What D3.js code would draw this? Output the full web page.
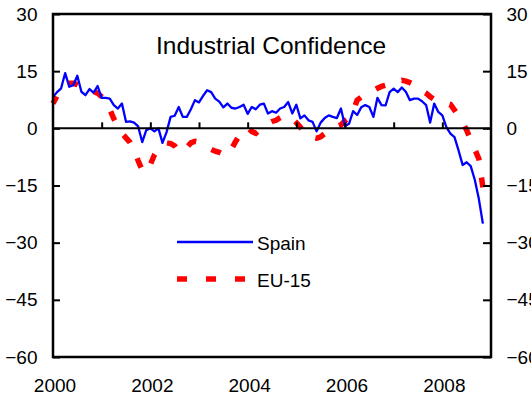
<!DOCTYPE html>
<html>
<head>
<meta charset="utf-8">
<script src="https://cdn.jsdelivr.net/npm/d3@7"></script>
<style>
  html, body { margin: 0; padding: 0; background: #fff; }
  svg { display: block; font-family: "Liberation Sans", Arial, sans-serif; }
</style>
</head>
<body>
<svg id="chart" width="531" height="400"></svg>
<script>
// Monthly values starting January 2000
const startYear = 2000;
const spain = [
  8.2, 9.5, 10.5, 14.5, 10.9, 11.3, 13.8, 9.6, 8.7, 10.3, 9.4, 11.1,
  8.0, 8.0, 7.8, 6.1, 5.2, 6.5, 1.7, 1.8, 1.5, 0.5, -3.6, -0.5,
  0.0, -0.8, 0.0, -3.8, -1.0, 3.0, 3.3, 5.6, 3.0, 3.0, 5.0, 7.4,
  6.8, 8.5, 10.0, 9.5, 7.8, 7.0, 5.5, 6.5, 5.4, 5.2, 5.6, 6.2,
  3.8, 5.6, 5.0, 6.2, 6.5, 3.9, 4.5, 4.1, 5.2, 5.6, 6.9, 3.9,
  6.2, 2.6, 3.4, 2.1, 1.7, -0.8, 1.5, 2.7, 3.4, 3.0, 2.7, 5.2,
  0.6, 1.2, 4.5, 3.5, 5.5, 6.1, 5.6, 3.0, 8.0, 6.1, 6.0, 9.5,
  10.4, 9.5, 10.7, 9.6, 7.4, 7.8, 7.8, 7.1, 6.1, 1.5, 6.5, 4.3,
  3.4, 0.3, -1.4, -2.3, -5.8, -9.6, -8.9, -9.9, -13.5, -18.5, -25.0
];
const eu15 = [
  6.5, 8.5, 10, 11, 11.8, 11.8, 11.5, 11, 10.5, 10, 9.7, 9.2,
  8.3, 7.3, 5, 2.5, 0.5, -1.3, -2.5, -3.7, -5.8, -8.5, -11, -11.5,
  -9.5, -7, -5.3, -4.5, -3.8, -4, -4.6, -6.2, -6, -5, -3.8, -3.4,
  -3.6, -4.2, -4.8, -5.5, -6, -6.3, -6.8, -7.1, -5.5, -3.5, -1.8, -0.5,
  0.2, -0.8, -1.3, -0.3, 0.5, 1.3, 1.8, 2.1, 2.8, 3.4, 3.2, 2.5,
  1.5, 0.3, -1.2, -2, -2.4, -2.6, -2.2, -1.4, -0.5, 0.2, 0.5, 0.9,
  2, 2.8, 4.5, 7.4, 8.2, 8.7, 9.3, 9.9, 10.5, 11, 11.3, 11.7,
  12, 12.3, 12.6, 12.4, 12, 11.5, 10.8, 9.8, 9.2, 8.3, 7.6, 7.2,
  6.8, 6.6, 6.3, 4.8, 3.2, 1.5, -0.5, -3, -5.5, -8, -15.5
];
const yTicks = [30, 15, 0, -15, -30, -45, -60];
const xLabelYears = [2000, 2002, 2004, 2006, 2008];
const xTickYears = [2001, 2002, 2003, 2004, 2005, 2006, 2007, 2008];
const title = "Industrial Confidence";
const seriesNames = ["Spain", "EU-15"];

const svg = d3.select("#chart");
const L = 53, R = 491, T = 14, B = 357;
const x = d3.scaleLinear().domain([2000, 2009]).range([L, R]);
const y = d3.scaleLinear().domain([-60, 30]).range([B, T]);
const fontSize = 19;

const toPts = arr => arr.map((v, i) => ({ t: startYear + i / 12, v }));
const line = d3.line().x(d => x(d.t)).y(d => y(d.v));

// Series
const euPath = svg.append("path").datum(toPts(eu15))
  .attr("d", line).attr("fill", "none")
  .attr("stroke", "#ff0000").attr("stroke-width", 5.5);
// fit the dash period so the line starts mid-dash and ends at the end of a dash
{
  const len = euPath.node().getTotalLength();
  const dash = 10, startOff = 2;
  const n = Math.round((len + startOff - dash) / 27.5);
  const period = (len + startOff - dash) / n;
  euPath.attr("stroke-dasharray", `${dash},${period - dash}`)
        .attr("stroke-dashoffset", startOff);
}
svg.append("path").datum(toPts(spain))
  .attr("d", line).attr("fill", "none")
  .attr("stroke", "#0000ff").attr("stroke-width", 2.3)
  .attr("stroke-linejoin", "round");

// Zero line with upward year ticks
const zeroAxis = d3.axisTop(x).tickValues(xTickYears).tickSize(6).tickFormat("");
const gz = svg.append("g").attr("transform", `translate(0,${y(0)})`).call(zeroAxis);
gz.select(".domain").remove();
gz.selectAll("line").attr("stroke", "#000").attr("stroke-width", 2);
svg.append("line").attr("x1", L).attr("x2", R).attr("y1", y(0)).attr("y2", y(0))
  .attr("stroke", "#000").attr("stroke-width", 2);

// Left axis
const gl = svg.append("g").attr("transform", `translate(${L},0)`)
  .call(d3.axisLeft(y).tickValues(yTicks).tickSize(-7).tickPadding(15.5).tickFormat(d3.format("d")));
// Right axis
const gr = svg.append("g").attr("transform", `translate(${R},0)`)
  .call(d3.axisRight(y).tickValues(yTicks).tickSize(-8).tickPadding(15.5).tickFormat(d3.format("d")));
// Bottom labels
const gb = svg.append("g").attr("transform", `translate(1.5,${B})`)
  .call(d3.axisBottom(x).tickValues(xLabelYears).tickSize(0).tickPadding(22).tickFormat(d3.format("d")));

[gl, gr, gb].forEach(g => {
  g.select(".domain").remove();
  g.selectAll("line").attr("stroke", "#000").attr("stroke-width", 2);
  g.selectAll("text").attr("fill", "#000").style("font-size", fontSize + "px")
    .style("font-family", '"Liberation Sans", Arial, sans-serif');
});

// Frame
svg.append("rect").attr("x", L).attr("y", T).attr("width", R - L).attr("height", B - T)
  .attr("fill", "none").attr("stroke", "#000").attr("stroke-width", 2.5);

// Title
svg.append("text").attr("x", 156).attr("y", 54).text(title)
  .style("font-size", "24.5px").attr("fill", "#000");

// Legend
svg.append("line").attr("x1", 177).attr("x2", 253).attr("y1", 242).attr("y2", 242)
  .attr("stroke", "#0000ff").attr("stroke-width", 2.3);
svg.append("text").attr("x", 257).attr("y", 249.5).text(seriesNames[0])
  .style("font-size", fontSize + "px").attr("fill", "#000");
svg.append("line").attr("x1", 177).attr("x2", 245).attr("y1", 279).attr("y2", 279)
  .attr("stroke", "#ff0000").attr("stroke-width", 5.5).attr("stroke-dasharray", "10,19");
svg.append("text").attr("x", 257).attr("y", 286.5).text(seriesNames[1])
  .style("font-size", fontSize + "px").attr("fill", "#000");
</script>
</body>
</html>
